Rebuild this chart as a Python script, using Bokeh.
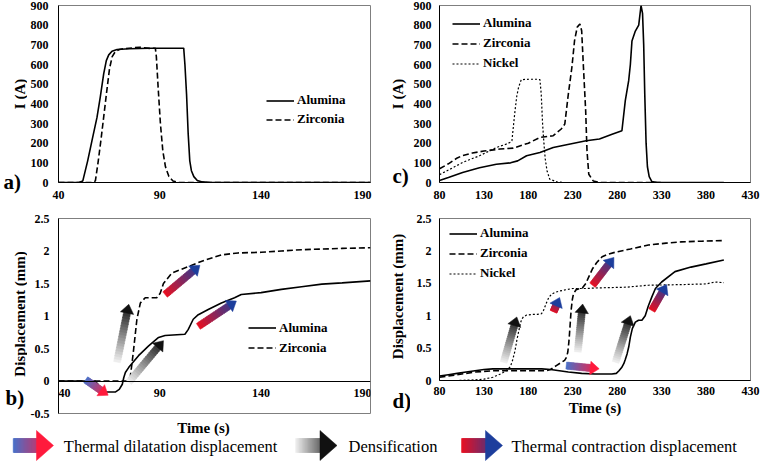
import math
from bokeh.plotting import figure
from bokeh.models import (FixedTicker, NumeralTickFormatter, Legend, LegendItem,
                          LabelSet, ColumnDataSource, Range1d)
from bokeh.layouts import column, row
from bokeh.embed import file_html
from bokeh.resources import INLINE
from bokeh.core.properties import value

FONT = "Liberation Serif"

# ---------------- data ----------------
# panel a: current vs time
a_alu_t = [40, 50, 52, 54.4, 56.5, 59, 60.6, 62.3, 63.6, 64.8, 66.4, 68.9, 75, 85, 95, 101.8,
           102.4, 103.2, 104, 104.8, 105.6, 106.8, 108.5, 111, 115, 194]
a_alu_i = [0, 0, 8, 110, 212, 331, 433, 552, 620, 649, 667, 676, 680, 683, 683, 683,
           600, 450, 250, 110, 60, 30, 10, 3, 0, 0]
a_zr_t = [40, 57, 58.2, 59.5, 61, 62.5, 64, 65.2, 66.5, 68, 70, 72, 80, 85, 87.8,
          88.3, 89.2, 90.3, 91.5, 92.8, 94.5, 96.5, 99, 194]
a_zr_i = [0, 0, 8, 100, 220, 350, 480, 580, 640, 665, 676, 680, 688, 682, 683,
          640, 480, 300, 160, 80, 30, 8, 0, 0]
a_xticks = [40, 90, 140, 190]
a_yticks = [0, 100, 200, 300, 400, 500, 600, 700, 800, 900]

# panel c: current vs time
c_alu_t = [80, 90, 106, 125, 144, 160, 168, 178, 193, 208, 223, 245, 260, 275, 285.3,
           289.1, 292.9, 294.8, 296.6, 300.4, 304.2, 306.8, 308.5, 309.8, 311, 312.5, 314,
           316, 319, 325, 400]
c_alu_i = [10, 25, 51, 75, 93, 100, 110, 136, 153, 178, 192, 212, 221, 246, 263,
           416, 518, 600, 720, 770, 800, 900, 860, 700, 450, 200, 80,
           30, 5, 0, 0]
c_zr_t = [80, 90, 100, 105, 117, 130, 148, 163, 180, 193, 208, 217, 221, 225, 229, 232,
          235, 238, 240, 242, 244.5, 246, 248, 253, 260, 330]
c_zr_i = [70, 95, 125, 135, 150, 160, 170, 175, 200, 229, 238, 272, 297, 450, 586, 722,
          790, 806, 772, 586, 365, 161, 42, 8, 0, 0]
c_ni_t = [80, 95, 106, 125, 144, 155, 160, 161.5, 163.5, 165, 167, 169, 172, 180, 190, 193,
          194.5, 196, 197.5, 199, 201, 204, 212, 220, 330]
c_ni_i = [40, 75, 102, 136, 178, 195, 205, 212, 300, 365, 440, 484, 523, 525, 525, 523,
          450, 300, 200, 120, 60, 17, 3, 0, 0]
c_xticks = [80, 130, 180, 230, 280, 330, 380, 430]
c_yticks = [0, 100, 200, 300, 400, 500, 600, 700, 800, 900]

# panel b: displacement vs time
b_alu_t = [40, 58, 59.5, 61, 62.5, 68, 70, 71.5, 72.2, 73, 74.7, 79.5, 84.5, 89.4, 92.6,
           102.4, 104, 106.5, 109, 113.9, 120.4, 126.9, 130.2, 140, 150, 160, 170, 180, 194]
b_alu_d = [0, 0, -0.05, -0.14, -0.17, -0.17, -0.13, -0.05, 0.05, 0.13, 0.21, 0.39, 0.54, 0.67, 0.70,
           0.72, 0.79, 0.95, 1.02, 1.10, 1.20, 1.28, 1.33, 1.36, 1.41, 1.45, 1.49, 1.51, 1.54]
b_zr_t = [40, 74, 75.5, 76.3, 77.1, 77.9, 78.7, 80.4, 82.8, 88.5, 90.2, 91.8, 95.9, 104,
          112.2, 120.4, 128.6, 140, 150, 160, 170, 180, 194]
b_zr_d = [0, 0, 0.08, 0.28, 0.49, 0.72, 0.95, 1.20, 1.28, 1.28, 1.35, 1.50, 1.66, 1.76,
          1.86, 1.94, 1.97, 1.98, 2.00, 2.02, 2.03, 2.04, 2.05]
b_xticks = [40, 90, 140, 190]
b_xtick_labels = ["40", "90", "140", "190"]
b_yticks = [-0.5, 0, 0.5, 1, 1.5, 2, 2.5]

# panel d: displacement vs time
d_alu_t = [80, 90, 100, 110, 120, 130, 140, 160, 180, 195, 205, 215, 225, 240, 255, 265, 274,
           279, 282, 285, 287.4, 289, 291.1, 293, 294.8, 297, 300.4, 304, 307.8, 311.5, 315,
           319, 323, 330, 345, 363, 380, 400]
d_alu_d = [0.07, 0.09, 0.11, 0.13, 0.15, 0.17, 0.18, 0.18, 0.18, 0.18, 0.17, 0.15, 0.13, 0.11,
           0.10, 0.10, 0.10, 0.11, 0.15, 0.20, 0.26, 0.32, 0.41, 0.52, 0.67, 0.80, 0.90, 0.93,
           0.93, 1.0, 1.15, 1.29, 1.42, 1.52, 1.68, 1.75, 1.80, 1.86]
d_zr_t = [80, 100, 120, 140, 160, 180, 200, 205, 211.5, 216, 220.8, 223, 224.4, 225.5, 226.3,
          227.2, 228.1, 229.5, 230.8, 233.7, 238, 241, 244.8, 248, 252, 257, 263, 270, 278,
          295, 315, 335, 352, 375, 400]
d_zr_d = [0.05, 0.09, 0.13, 0.15, 0.15, 0.15, 0.15, 0.17, 0.23, 0.27, 0.31, 0.36, 0.44, 0.58,
          0.72, 0.90, 1.08, 1.25, 1.34, 1.40, 1.42, 1.43, 1.50, 1.60, 1.72, 1.82, 1.91, 1.95,
          1.98, 2.03, 2.09, 2.12, 2.14, 2.15, 2.16]
d_ni_t = [80, 100, 120, 130, 140, 148.5, 155, 159.6, 162, 165, 167, 169, 171, 172.6, 174.4,
          178, 185, 190, 194.8, 197, 200.4, 203, 206, 210, 215, 222, 230, 245, 260, 290, 315,
          352, 380, 390, 400]
d_ni_d = [0.0, 0.0, 0.01, 0.02, 0.05, 0.10, 0.15, 0.21, 0.30, 0.46, 0.62, 0.75, 0.88, 0.95,
          0.98, 1.01, 1.02, 1.02, 1.03, 1.08, 1.20, 1.28, 1.33, 1.36, 1.38, 1.40, 1.42, 1.42,
          1.43, 1.44, 1.47, 1.48, 1.49, 1.52, 1.51]
d_xticks = [80, 130, 180, 230, 280, 330, 380, 430]
d_yticks = [0, 0.5, 1, 1.5, 2, 2.5]

series_names = ["Alumina", "Zirconia", "Nickel"]
legend_labels = ["Thermal  dilatation displacement", "Densification", "Thermal contraction displacement"]
current_title = "I (A)"
disp_title = "Displacement (mm)"
time_title = "Time (s)"
panel_letters = ["a)", "b)", "c)", "d)"]

# annotation arrows (kind, x_tail, y_tail, x_tip, y_tip) in data units
b_arrows = [("dil", 53.4, 0.02, 64.5, -0.22),
            ("den", 68.9, 0.29, 74.7, 1.18),
            ("den", 74.7, -0.02, 91.8, 0.62),
            ("con", 92.6, 1.33, 109.8, 1.78),
            ("con", 109.0, 0.84, 127.8, 1.23)]
d_arrows = [("den", 152.2, 0.28, 167.0, 0.98),
            ("con", 208.3, 1.06, 215.2, 1.28),
            ("den", 235.6, 0.44, 241.1, 1.18),
            ("dil", 222.6, 0.23, 259.7, 0.18),
            ("den", 278.1, 0.28, 294.8, 1.0),
            ("con", 318.9, 1.08, 335.6, 1.48),
            ("con", 252.2, 1.47, 276.3, 1.90)]

COLORS = {"dil": ("#4673cc", "#ff1a3c"),
          "den": ("#f4f4f4", "#111111"),
          "con": ("#ec1020", "#1d3e9c")}


def mix(c0, c1, t):
    a = [int(c0[i:i + 2], 16) for i in (1, 3, 5)]
    b = [int(c1[i:i + 2], 16) for i in (1, 3, 5)]
    t = max(0.0, min(1.0, t))
    return "#%02x%02x%02x" % tuple(int(round(a[k] + (b[k] - a[k]) * t)) for k in range(3))


def gradient_arrow(p, kind, x0, y0, x1, y1, kx, ky, shaft=7, head_w=13.5, head_l=9, n=18):
    c0, c1 = COLORS[kind]
    X0, Y0, X1, Y1 = x0 * kx, y0 * ky, x1 * kx, y1 * ky
    dx, dy = X1 - X0, Y1 - Y0
    L = (dx * dx + dy * dy) ** 0.5
    ux, uy = dx / L, dy / L
    nx, ny = -uy, ux
    Ls = max(L - head_l, 1.0)

    def pt(t, s):
        return ((X0 + t * ux + s * nx) / kx, (Y0 + t * uy + s * ny) / ky)

    xs, ys, cols = [], [], []
    for i in range(n):
        t0 = Ls * i / n
        t1 = min(Ls * (i + 1) / n + 0.8, Ls + 0.6)
        q = [pt(t0, -shaft / 2), pt(t1, -shaft / 2), pt(t1, shaft / 2), pt(t0, shaft / 2)]
        xs.append([a for a, b in q])
        ys.append([b for a, b in q])
        cols.append(mix(c0, c1, (t0 + t1) / 2 / L))
    q = [pt(Ls, -head_w / 2), pt(L, 0), pt(Ls, head_w / 2)]
    xs.append([a for a, b in q])
    ys.append([b for a, b in q])
    cols.append(c1)
    p.patches(xs, ys, fill_color=cols, line_color=cols, line_width=0.5)


def style_axis(ax):
    ax.major_tick_line_color = None
    ax.minor_tick_line_color = None
    ax.major_tick_out = 0
    ax.major_tick_in = 0
    ax.minor_tick_out = 0
    ax.minor_tick_in = 0
    ax.axis_line_color = "black"
    ax.major_label_text_font = FONT
    ax.major_label_text_font_style = "bold"
    ax.major_label_text_font_size = "12px"
    ax.major_label_text_color = "black"
    ax.axis_label_text_font = FONT
    ax.axis_label_text_font_style = "bold"
    ax.axis_label_text_font_size = "15px"
    ax.axis_label_text_color = "black"


def make_fig(w, h, xr, yr, bl, br, bt, bb):
    p = figure(width=w, height=h, x_range=Range1d(*xr), y_range=Range1d(*yr),
               output_backend="svg", toolbar_location=None,
               min_border_left=bl, min_border_right=br, min_border_top=bt, min_border_bottom=bb)
    p.grid.visible = False
    p.outline_line_color = "#7f7f7f"
    p.outline_line_width = 1
    p.background_fill_color = "white"
    p.border_fill_color = "white"
    for ax in p.axis:
        style_axis(ax)
    return p


def blank_fig(w, h):
    s = figure(width=w, height=h, x_range=Range1d(0, w), y_range=Range1d(0, h),
               output_backend="svg", toolbar_location=None, min_border=0)
    s.axis.visible = False
    s.grid.visible = False
    s.outline_line_color = None
    s.border_fill_color = "white"
    return s


def side_fig(w, h, title, tx, ty, letter, lx, ly):
    s = blank_fig(w, h)
    s.text(x=[tx], y=[ty], text=[title], angle=math.pi / 2, text_font=value(FONT),
           text_font_style="bold", text_font_size="15px", text_align="center",
           text_baseline="middle", text_color="black")
    s.text(x=[lx], y=[ly], text=[letter], text_font=value(FONT),
           text_font_style="bold", text_font_size="21px", text_align="left",
           text_baseline="middle", text_color="black")
    return s


def add_legend(p, renderers, names, x, y, spacing):
    items = [LegendItem(label=n, renderers=[r]) for n, r in zip(names, renderers)]
    lg = Legend(items=items, location=(x, y), padding=0, margin=0, spacing=spacing,
                glyph_width=28, glyph_height=15, label_height=15, label_standoff=3,
                label_text_font=FONT, label_text_font_style="bold", label_text_font_size="13px",
                label_text_color="black", border_line_color=None, background_fill_alpha=0)
    p.add_layout(lg)


SOLID = dict(line_color="black", line_width=1.6)
DASH = dict(line_color="black", line_width=1.6, line_dash="6 3")
DOT = dict(line_color="black", line_width=1.2, line_dash="2 2")

ROW1_H = 207
ROW2_H = 213

# ---------------- panel a ----------------
fa = make_fig(353, ROW1_H, (40, 194), (0, 900), 30, 10, 5, 25)
fa.xaxis.ticker = FixedTicker(ticks=a_xticks)
fa.yaxis.ticker = FixedTicker(ticks=a_yticks)
fa.xaxis.major_label_standoff = 8
fa.yaxis.major_label_standoff = 10
ra1 = fa.line(a_alu_t, a_alu_i, **SOLID)
ra2 = fa.line(a_zr_t, a_zr_i, **DASH)
add_legend(fa, [ra1, ra2], series_names[:2], 208, 55, 3)
sa = side_fig(27, ROW1_H, current_title, 19.5, 113.5, panel_letters[0], 3, 26)

# ---------------- panel c ----------------
fc = make_fig(350, ROW1_H, (80, 430), (0, 900), 27, 10, 5, 25)
fc.xaxis.ticker = FixedTicker(ticks=c_xticks)
fc.yaxis.ticker = FixedTicker(ticks=c_yticks)
fc.xaxis.major_label_standoff = 8
fc.yaxis.major_label_standoff = 8
rc1 = fc.line(c_alu_t, c_alu_i, **SOLID)
rc2 = fc.line(c_zr_t, c_zr_i, **DASH)
rc3 = fc.line(c_ni_t, c_ni_i, **DOT)
add_legend(fc, [rc1, rc2, rc3], series_names, 13, 111, 4)
sc = side_fig(30, ROW1_H, current_title, 17, 113.5, panel_letters[2], 12, 31.5)

# ---------------- panel b ----------------
fb = make_fig(353, ROW2_H, (40, 194), (-0.5, 2.5), 30, 10, 11, 7)
fb.xaxis.fixed_location = 0
fb.xaxis.ticker = FixedTicker(ticks=[])
fb.yaxis.ticker = FixedTicker(ticks=b_yticks)
fb.yaxis.formatter = NumeralTickFormatter(format="0.[0]")
fb.yaxis.major_label_standoff = 9
bsrc = ColumnDataSource(dict(x=b_xticks, y=[0] * len(b_xticks), t=b_xtick_labels,
                             dx=[6] + [0] * (len(b_xticks) - 1)))
fb.add_layout(LabelSet(x="x", y="y", text="t", source=bsrc, x_offset="dx", y_offset=-8,
                       text_align="center", text_baseline="top", text_font=value(FONT),
                       text_font_style="bold", text_font_size="12px", text_color="black"))
rb1 = fb.line(b_alu_t, b_alu_d, **SOLID)
rb2 = fb.line(b_zr_t, b_zr_d, **DASH)
kxb, kyb = 313 / 154, 195 / 3
for kind, x0, y0, x1, y1 in b_arrows:
    gradient_arrow(fb, kind, x0, y0, x1, y1, kxb, kyb)
add_legend(fb, [rb1, rb2], series_names[:2], 190, 57.5, 4)
sb = side_fig(27, ROW2_H, disp_title, 19.5, 106.5, panel_letters[1], 5, 22.5)

# ---------------- panel d ----------------
fd = make_fig(350, ROW2_H, (80, 430), (0, 2.5), 27, 10, 11, 40)
fd.xaxis.ticker = FixedTicker(ticks=d_xticks)
fd.yaxis.ticker = FixedTicker(ticks=d_yticks)
fd.yaxis.formatter = NumeralTickFormatter(format="0.[0]")
fd.xaxis.major_label_standoff = 6
fd.yaxis.major_label_standoff = 8
fd.xaxis.axis_label = time_title
fd.xaxis.axis_label_standoff = 2
rd1 = fd.line(d_alu_t, d_alu_d, **SOLID)
rd2 = fd.line(d_zr_t, d_zr_d, **DASH)
rd3 = fd.line(d_ni_t, d_ni_d, **DOT)
kxd, kyd = 313 / 350, 162 / 2.5
for kind, x0, y0, x1, y1 in d_arrows:
    gradient_arrow(fd, kind, x0, y0, x1, y1, kxd, kyd)
add_legend(fd, [rd1, rd2, rd3], series_names, 10, 99, 4)
sd = side_fig(30, ROW2_H, disp_title, 17, 124, panel_letters[3], 12, 19.5)

# ---------------- bottom strip: b's time title + arrow legend ----------------
LEG_H = 464 - ROW1_H - ROW2_H
fl = blank_fig(760, LEG_H)
fl.text(x=[203], y=[LEG_H - 7], text=[time_title], text_font=value(FONT),
        text_font_style="bold", text_font_size="15px", text_align="center",
        text_baseline="middle", text_color="black")
leg_kinds = ["dil", "den", "con"]
leg_arrow_x = [(12.7, 53), (295, 336.5), (461, 502)]
leg_text_x = [63.3, 348, 511]
for kind, (xa, xb) in zip(leg_kinds, leg_arrow_x):
    gradient_arrow(fl, kind, xa, 19, xb, 19, 1, 1, shaft=14, head_w=30, head_l=17, n=24)
fl.text(x=leg_text_x, y=[18.5] * 3, text=legend_labels, text_font=value(FONT),
        text_font_size="16.5px", text_baseline="middle", text_align="left", text_color="black")

main = row(column(sa, sb), column(fa, fb), column(sc, sd), column(fc, fd))
layout = column(main, fl)
open("out.html", "w").write(file_html(layout, INLINE))
